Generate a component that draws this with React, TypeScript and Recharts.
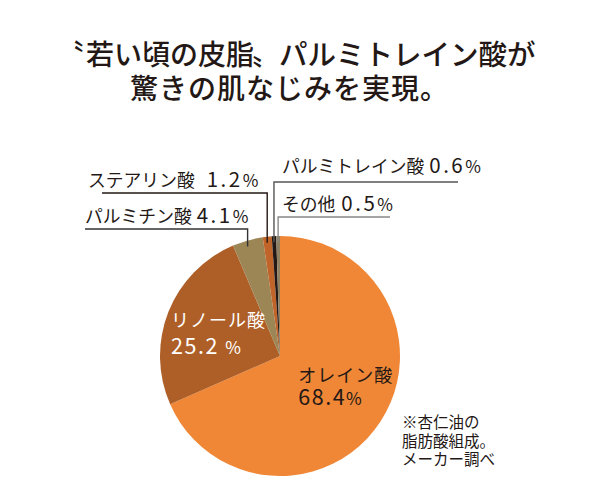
import React from "react";
import { PieChart, Pie, Cell } from "recharts";

const names = ["オレイン酸", "リノール酸", "パルミチン酸", "ステアリン酸", "パルミトレイン酸", "その他"];
const values = [68.4, 25.2, 4.1, 1.2, 0.6, 0.5];
const valueLabels = ["68.4", "25.2 ", "4.1", "1.2", "0.6", "0.5"];
const colors = ["#EF8737", "#AE5F27", "#9C8656", "#C0642A", "#231815", "#8E8060"];

const titleParts = ["〝", "若い頃の皮脂", "〟", "パルミトレイン酸が"];
const titleLine2 = "驚きの肌なじみを実現。";
const noteLines = ["※杏仁油の", "脂肪酸組成。", "メーカー調べ"];

const data = names.map((n, i) => ({ name: n, value: values[i] }));

const FONT = "'Noto Sans CJK JP', 'Noto Sans', sans-serif";
const INK = "#231815";
const RADIAN = Math.PI / 180;

// layout for labels (positions only)
const insideLayout: Record<number, { r: number; dx: number; dy: number; color: string; gap: number }> = {
  0: { r: 0.6, dx: -42, dy: -13, color: INK, gap: 23 },
  1: { r: 0.6, dx: -42, dy: -2, color: "#ffffff", gap: 27 },
};
const outsideLayout: Record<number, { lineY: number; lineEnd: number; tx: number; ty: number; line: string; gap: number }> = {
  2: { lineY: 229, lineEnd: 85, tx: 85, ty: 223, line: "#333", gap: 5 },
  3: { lineY: 193, lineEnd: 102, tx: 88, ty: 187, line: "#231815", gap: 12 },
  4: { lineY: 182, lineEnd: 458, tx: 282, ty: 173, line: "#555", gap: 5 },
  5: { lineY: 217, lineEnd: 390, tx: 282, ty: 211, line: "#888", gap: 6 },
};

const renderLabel = (props: any) => {
  const { cx, cy, midAngle, outerRadius, index } = props;
  const cos = Math.cos(-midAngle * RADIAN);
  const sin = Math.sin(-midAngle * RADIAN);
  if (insideLayout[index]) {
    const L = insideLayout[index];
    const x = cx + outerRadius * L.r * cos + L.dx;
    const y = cy + outerRadius * L.r * sin + L.dy;
    return (
      <g key={`l${index}`}>
        <text x={x} y={y} fill={L.color} fontFamily={FONT} fontSize={18} letterSpacing={1}>
          {names[index]}
        </text>
        <text x={x} y={y + L.gap} fill={L.color} fontFamily={FONT} fontSize={21.5} letterSpacing={1.5}>
          {valueLabels[index]}
          <tspan fontSize={17}>%</tspan>
        </text>
      </g>
    );
  }
  const L = outsideLayout[index];
  const px = cx + outerRadius * cos;
  const py = cy + outerRadius * sin;
  return (
    <g key={`l${index}`}>
      <polyline
        points={`${L.lineEnd},${L.lineY} ${px},${L.lineY} ${px},${py + 6}`}
        fill="none"
        stroke={L.line}
        strokeWidth={1.4}
      />
      <text x={L.tx} y={L.ty} fill={INK} fontFamily={FONT} fontSize={17.8}>
        {names[index]}
        <tspan dx={L.gap} fontSize={20.5} letterSpacing={2.5}>{values[index].toFixed(1)}</tspan>
        <tspan fontSize={17}>%</tspan>
      </text>
    </g>
  );
};

export default function App() {
  return (
    <div style={{ position: "relative", width: 600, height: 500, margin: -8, background: "#fff" }}>
      <PieChart
        width={600}
        height={500}
        margin={{ top: 0, right: 0, bottom: 0, left: 0 }}
        style={{ position: "absolute", left: 0, top: 0 }}
      >
        <g fill={INK} fontFamily={FONT} fontSize={28} fontWeight={500}>
          <text x={56} y={65}>{titleParts[0]}</text>
          <text x={86} y={65}>{titleParts[1]}</text>
          <text x={252} y={65}>{titleParts[2]}</text>
          <text x={279} y={65} fontSize={28.5}>{titleParts[3]}</text>
          <text x={130} y={99} letterSpacing={1}>{titleLine2}</text>
        </g>
        <Pie
          data={data}
          dataKey="value"
          nameKey="name"
          cx={280}
          cy={356}
          outerRadius={120}
          startAngle={90}
          endAngle={-270}
          stroke="none"
          isAnimationActive={false}
          label={renderLabel}
          labelLine={false}
        >
          {data.map((d, i) => (
            <Cell key={d.name} fill={colors[i]} />
          ))}
        </Pie>
        {noteLines.map((t, i) => (
          <text key={t} x={402} y={428 + i * 18.5} fill={INK} fontFamily={FONT} fontSize={15.5}>
            {t}
          </text>
        ))}
      </PieChart>
    </div>
  );
}
